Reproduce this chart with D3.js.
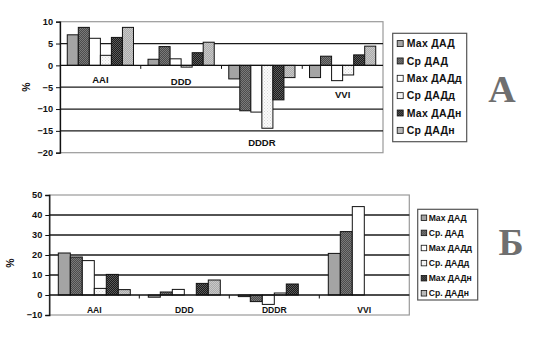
<!DOCTYPE html>
<html>
<head>
<meta charset="utf-8">
<script src="https://cdn.jsdelivr.net/npm/d3@7/dist/d3.min.js"></script>
<style>
  html, body { margin: 0; padding: 0; background: #fff; }
  svg { display: block; }
  text { font-family: "Liberation Sans", Arial, sans-serif; font-weight: bold; fill: #111; }
</style>
</head>
<body>
<svg id="chart" width="539" height="340"></svg>
<script>
// Pacing modes
const categories = ["AAI", "DDD", "DDDR", "VVI"];

// Panel А: change of BP indices, %
const seriesA = ["Max ДАД", "Ср ДАД", "Max ДАДд", "Ср ДАДд", "Max ДАДн", "Ср ДАДн"];
const valuesA = [
  [7.0, 1.4, -3.1, -2.8],
  [8.7, 4.3, -10.4, 2.1],
  [6.2, 1.5, -10.7, -3.5],
  [2.3, -0.4, -14.4, -2.2],
  [6.4, 2.9, -7.9, 2.4],
  [8.7, 5.3, -2.8, 4.4]
];
const ticksA = [10, 5, 0, -5, -10, -15, -20];

// Panel Б
const seriesB = ["Max ДАД", "Ср. ДАД", "Max ДАДд", "Ср. ДАДд", "Max ДАДн", "Ср. ДАДн"];
const valuesB = [
  [21.0, -1.1, -0.8, 20.8],
  [19.0, 1.5, -3.3, 31.7],
  [17.2, 2.8, -4.7, 44.2],
  [3.3, 0, 1.0, null],
  [10.3, 5.8, 5.5, null],
  [2.7, 7.5, 0, null]
];
const ticksB = [50, 40, 30, 20, 10, 0, -10];

const svg = d3.select("#chart");
const defs = svg.append("defs");

// Fills: plain and dotted textures per series
function dotPattern(id, base, dot, step) {
  const p = defs.append("pattern").attr("id", id)
    .attr("patternUnits", "userSpaceOnUse").attr("width", step).attr("height", step);
  p.append("rect").attr("width", step).attr("height", step).attr("fill", base);
  if (dot) {
    p.append("rect").attr("x", 0).attr("y", 0).attr("width", 1).attr("height", 1).attr("fill", dot);
    p.append("rect").attr("x", step / 2).attr("y", step / 2).attr("width", 1).attr("height", 1).attr("fill", dot);
  }
  return `url(#${id})`;
}
const fills = [
  dotPattern("f0", "#a4a4a4", null, 2),
  dotPattern("f1", "#4c4c4c", "#7a7a7a", 2),
  dotPattern("f2", "#ffffff", null, 2),
  dotPattern("f3", "#fbfbfb", "#d8d8d8", 3),
  dotPattern("f4", "#1c1c1c", "#5a5a5a", 2),
  dotPattern("f5", "#ababab", "#c8c8c8", 2)
];

function drawPanel(opt) {
  const g = svg.append("g");
  const y = d3.scaleLinear().domain(opt.domain).range([opt.bottom, opt.top]);
  const x = d3.scaleBand().domain(categories).range([opt.left, opt.right])
    .paddingInner(opt.pad).paddingOuter(opt.pad / 2);
  const xs = d3.scaleBand().domain(d3.range(opt.series.length)).range([0, x.bandwidth()]);

  // plot area frame
  g.append("rect").attr("x", opt.left).attr("y", opt.top)
    .attr("width", opt.right - opt.left).attr("height", opt.bottom - opt.top)
    .attr("fill", "none").attr("stroke", "#9a9a9a").attr("stroke-width", 1.2);

  // gridlines
  g.selectAll(".grid").data(opt.ticks.filter(t => t !== 0 && t !== opt.domain[0] && t !== opt.domain[1]))
    .join("line")
    .attr("x1", opt.left).attr("x2", opt.right)
    .attr("y1", d => y(d)).attr("y2", d => y(d))
    .attr("stroke", "#1a1a1a").attr("stroke-width", 1.3);

  // bars
  opt.series.forEach((name, si) => {
    const rows = categories.map((c, ci) => ({ c, v: opt.values[si][ci] }))
      .filter(d => d.v !== null && d.v !== 0);
    g.selectAll(null).data(rows).join("rect")
      .attr("x", d => x(d.c) + xs(si))
      .attr("y", d => y(Math.max(0, d.v)))
      .attr("width", xs.bandwidth())
      .attr("height", d => Math.abs(y(d.v) - y(0)))
      .attr("fill", fills[si])
      .attr("stroke", "#111").attr("stroke-width", 1);
  });

  // value axis
  const yAxis = d3.axisLeft(y).tickValues(opt.ticks).tickSize(4).tickPadding(3).tickFormat(d3.format("d"));
  const ya = g.append("g").attr("transform", `translate(${opt.left},0)`).call(yAxis);
  ya.select(".domain").attr("stroke", "#111").attr("stroke-width", 1.3);
  ya.selectAll(".tick line").attr("stroke", "#111");
  ya.selectAll("text").attr("font-size", opt.tickFont).attr("font-family", "Liberation Sans").attr("font-weight", "bold").attr("fill", "#111");

  // zero line with category ticks
  g.append("line").attr("x1", opt.left).attr("x2", opt.right)
    .attr("y1", y(0)).attr("y2", y(0)).attr("stroke", "#111").attr("stroke-width", 1.3);
  const bounds = categories.slice(1).map(c => x(c) - x.step() * opt.pad / 2);
  g.selectAll(null).data(bounds).join("line")
    .attr("x1", d => d).attr("x2", d => d)
    .attr("y1", y(0)).attr("y2", y(0) + 3.5)
    .attr("stroke", "#111").attr("stroke-width", 1);

  // category labels
  g.selectAll(null).data(categories).join("text")
    .attr("x", c => x(c) + x.bandwidth() / 2)
    .attr("y", (c, ci) => {
      if (!opt.labelBelowBars) return y(0) + opt.labelOffset;
      const lo = d3.min(opt.values, s => s[ci] === null ? 0 : s[ci]);
      return y(Math.min(0, lo)) + opt.labelOffset;
    })
    .attr("text-anchor", "middle").attr("font-size", opt.catFont)
    .text(c => c);

  // axis title
  g.append("text")
    .attr("transform", `translate(${opt.titleX},${opt.titleY}) rotate(-90)`)
    .attr("text-anchor", "middle").attr("font-size", 10.5)
    .attr("font-weight", "normal")
    .text("%");

  // legend
  const L = opt.legend;
  g.append("rect").attr("x", L.x).attr("y", L.y).attr("width", L.w).attr("height", L.h)
    .attr("fill", "#fff").attr("stroke", "#555").attr("stroke-width", 1.2);
  const li = g.selectAll(null).data(opt.series).join("g")
    .attr("transform", (d, i) => `translate(${L.x + L.sx},${L.first + i * L.step})`);
  li.append("rect").attr("x", 0).attr("y", -L.sw / 2).attr("width", L.sw).attr("height", L.sw)
    .attr("fill", (d, i) => fills[i]).attr("stroke", "#111").attr("stroke-width", 0.8);
  li.append("text").attr("x", L.sw + L.gap).attr("y", 0).attr("dy", "0.36em")
    .attr("font-size", L.font).attr("letter-spacing", L.ls)
    .text(d => d);

  // panel letter
  g.append("text").attr("x", opt.letterX).attr("y", opt.letterY)
    .attr("text-anchor", "middle")
    .attr("font-family", "Liberation Serif").attr("font-size", 38).attr("font-weight", "bold")
    .style("font-family", "'Liberation Serif', 'DejaVu Serif', serif")
    .style("fill", "#6f6f6f")
    .text(opt.letter);
}

drawPanel({
  series: seriesA, values: valuesA, ticks: ticksA, domain: [-20, 10],
  left: 60, right: 383, top: 21.7, bottom: 152.7, pad: 0.18,
  labelBelowBars: true, labelOffset: 17.5, tickFont: 9.2, catFont: 9.5,
  titleX: 30, titleY: 87,
  legend: { x: 392.7, y: 33.3, w: 74, h: 108.4, sx: 4.5, sw: 6, gap: 3.5, first: 43.6, step: 17.35, font: 10.5, ls: 0.3 },
  letter: "А", letterX: 502, letterY: 102
});

drawPanel({
  series: seriesB, values: valuesB, ticks: ticksB, domain: [-10, 50],
  left: 49.3, right: 409.3, top: 195, bottom: 315, pad: 0.2,
  labelBelowBars: false, labelOffset: 17.5, tickFont: 9.2, catFont: 8.6,
  titleX: 14, titleY: 263,
  legend: { x: 417.7, y: 209.3, w: 60, h: 90.7, sx: 3.5, sw: 5.5, gap: 2, first: 217.8, step: 15.1, font: 8.6, ls: 0 },
  letter: "Б", letterX: 511, letterY: 255
});
</script>
</body>
</html>
